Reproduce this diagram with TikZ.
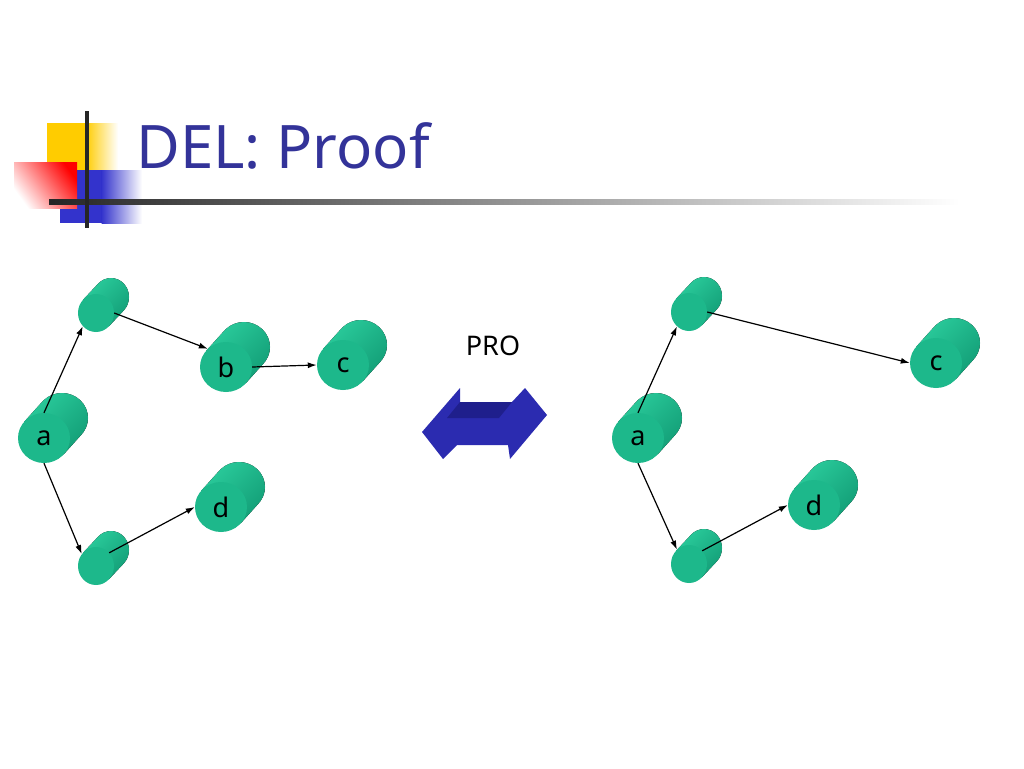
\documentclass[tikz,border=0pt]{standalone}
\usepackage{fontspec}
\setmainfont{Noto Sans}
\usetikzlibrary{shapes.geometric,arrows.meta}
\definecolor{cylfront}{HTML}{1DB88B}
\definecolor{cyllight}{HTML}{2ACB9B}
\definecolor{cyldark}{HTML}{139E77}
\definecolor{titleblue}{HTML}{333399}
\definecolor{decoyellow}{HTML}{FFCC00}
\definecolor{decoblue}{HTML}{3333CC}
\definecolor{arrowblue}{HTML}{2B2BB0}
\definecolor{arrowdark}{HTML}{1F1F8C}
\tikzset{
  cylbody/.style={top color=cyllight, bottom color=cyldark, shading angle=45},
  bigface/.style={ellipse, fill=cylfront, minimum width=52pt, minimum height=50pt, inner sep=0pt, font=\fontsize{27}{30}\selectfont},
  smallface/.style={ellipse, fill=cylfront, minimum width=36pt, minimum height=38pt, inner sep=0pt},
  conn/.style={line width=1.2pt, -{Latex[length=9pt,width=6pt]}},
}
\newcommand\cylB[4]{%
  \fill[cylbody] (#2+19.65,#3+16.37) -- ++(18,-20) -- ++(-39.3,-32.74) -- ++(-18,20) -- cycle
     (#2+18,#3-20) ellipse [x radius=26pt, y radius=25pt];
  \node[bigface] (#1) at (#2,#3) {#4};}
\newcommand\cylS[3]{%
  \fill[cylbody] (#2+12.8,#3+13.36) -- ++(15,-16) -- ++(-25.6,-26.72) -- ++(-15,16) -- cycle
     (#2+15,#3-16) ellipse [x radius=18pt, y radius=19pt];
  \node[smallface] (#1) at (#2,#3) {};}
\begin{document}
\begin{tikzpicture}[x=1pt,y=-1pt]
\fill[white] (0,0) rectangle (1024,768);
\useasboundingbox (0,0) rectangle (1024,768);
% title decoration
\fill[decoyellow] (47,123) rectangle (86,170);
\shade[left color=decoyellow, right color=white] (85.5,123) rectangle (118,170);
\fill[decoblue] (60,170) rectangle (102,223);
\shade[left color=decoblue, right color=white] (101.5,170) rectangle (142,223);
\shade[top color=red, bottom color=white, shading angle=-54] (14,162) rectangle (77,208);
\shade[left color=black!85, right color=white] (49,199) rectangle (960,204);
\draw[line width=4pt, black!85] (87,111) -- (87,228);
\node[anchor=base west, text=titleblue, font=\fontsize{60}{72}\selectfont, inner sep=0pt] (title) at (136,168) {DEL: Proof};
% left graph
\cylB{a}{44}{438}{a}
\cylS{t1}{96}{313}
\cylB{b}{226}{367}{b}
\cylB{c}{343}{365}{c}
\cylB{d}{221}{507}{d}
\cylS{s1}{96}{566}
\draw[conn] (a.north) -- (t1.225);
\draw[conn] (t1.east) -- (b.135);
\draw[conn] (b.east) -- (c.west);
\draw[conn] (a.south) -- (s1.140);
\draw[conn] (s1.45) -- (d.west);
% middle
\node[font=\fontsize{27}{30}\selectfont, inner sep=0pt] (pro) at (493,345.5) {PRO};
\fill[arrowblue] (422,432) -- (460,388) -- (460,402) -- (512,402) -- (525,388) -- (547,415)
   -- (510,459) -- (508,445) -- (457,445) -- (443,459) -- cycle;
\fill[arrowdark] (460,402) -- (512,402) -- (499,418) -- (447,418) -- cycle;
% right graph
\cylB{a2}{638}{438}{a}
\cylS{t2}{689}{312}
\cylB{c2}{936}{363}{c}
\cylB{d2}{814}{505}{d}
\cylS{s2}{689}{564}
\draw[conn] (a2.north) -- (t2.230);
\draw[conn] (t2.east) -- (c2.west);
\draw[conn] (a2.south) -- (s2.130);
\draw[conn] (s2.45) -- (d2.west);
\end{tikzpicture}
\end{document}
